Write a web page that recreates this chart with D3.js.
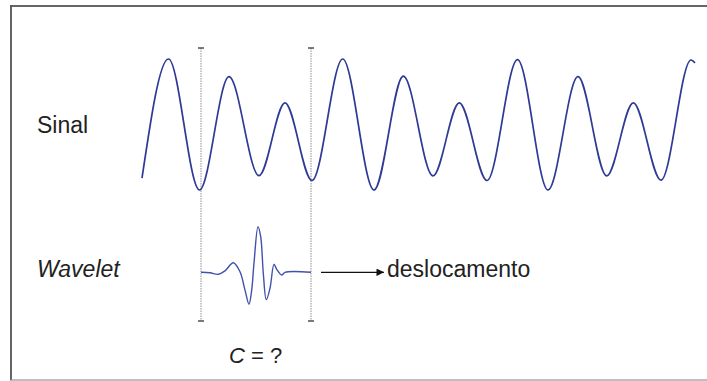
<!DOCTYPE html>
<html>
<head>
<meta charset="utf-8">
<script src="https://cdn.jsdelivr.net/npm/d3@7"></script>
<style>
  html, body { margin: 0; padding: 0; background: #fff; }
  svg { display: block; font-family: "Liberation Sans", Arial, sans-serif; }
</style>
</head>
<body>
<svg id="chart" width="707" height="381"></svg>
<script>
// Signal samples: time (arbitrary units) and amplitude, taken at turning points
const sigT = [0, 26.5, 57.5, 87, 117, 143, 170, 200.7, 232, 261.3, 291, 317.3, 345,
              375.5, 406, 436, 464.7, 491.3, 519, 549, 553];
const sigV = [-0.82, 1.0, -1.0, 0.73, -0.78, 0.33, -0.855, 1.0, -1.0, 0.74, -0.785, 0.33, -0.855,
              0.99, -1.0, 0.73, -0.785, 0.33, -0.85, 0.985, 0.94];

// Wavelet samples: time offset inside the analysis window and amplitude
const wavT = [0, 9, 17.3, 24, 32.3, 39, 44, 48, 50.7, 53, 57, 59.7, 62.3, 65.3, 69, 73, 75.7, 80.7, 84, 110];
const wavV = [0, -0.01, -0.044, 0.03, 0.21, 0.013, -0.39, -0.7, -0.39, 0.2, 1.0, 0.78, -0.02, -0.6,
              -0.35, 0.175, 0.065, -0.06, 0, 0];

// Analysis window (start / end, same time units as the signal)
const windowT = [59, 169];

const labels = { signal: "Sinal", wavelet: "Wavelet", shift: "deslocamento", coefVar: "C", coefRest: " = ?" };

const svg = d3.select("#chart");

// Frame
svg.append("line").attr("x1", 10).attr("x2", 707).attr("y1", 6).attr("y2", 6)
  .attr("stroke", "#333").attr("stroke-width", 1.5);
svg.append("line").attr("x1", 11).attr("x2", 11).attr("y1", 5.5).attr("y2", 380.5)
  .attr("stroke", "#555").attr("stroke-width", 1.8);
svg.append("line").attr("x1", 11).attr("x2", 707).attr("y1", 380).attr("y2", 380)
  .attr("stroke", "#aaa").attr("stroke-width", 1.5);

const x = d3.scaleLinear().domain([0, 553]).range([142, 695]);
const ySig = d3.scaleLinear().domain([-1, 1]).range([190, 59]);
const yWav = d3.scaleLinear().domain([-1, 1]).range([272.3 + 45.6, 272.3 - 45.6]);

// Window markers: dotted verticals with short caps
windowT.forEach(t => {
  const xp = x(t);
  svg.append("line").attr("x1", xp).attr("x2", xp).attr("y1", 48).attr("y2", 321)
    .attr("stroke", "#a8a8a8").attr("stroke-width", 1.3).attr("stroke-dasharray", "1.5,1");
  [48, 321].forEach(yy => {
    svg.append("line").attr("x1", xp - 3).attr("x2", xp + 3).attr("y1", yy).attr("y2", yy)
      .attr("stroke", "#444").attr("stroke-width", 1.4);
  });
});

// Signal
const sigLine = d3.line().x(d => x(d[0])).y(d => ySig(d[1])).curve(d3.curveMonotoneX);
svg.append("path").datum(d3.zip(sigT, sigV)).attr("d", sigLine)
  .attr("fill", "none").attr("stroke", "#2e3a96").attr("stroke-width", 1.7);

// Wavelet placed inside the window
const wavLine = d3.line().x(d => x(windowT[0] + d[0])).y(d => yWav(d[1])).curve(d3.curveCatmullRom.alpha(0.5));
svg.append("path").datum(d3.zip(wavT, wavV)).attr("d", wavLine)
  .attr("fill", "none").attr("stroke", "#4252ac").attr("stroke-width", 1.4);

// Shift arrow
const defs = svg.append("defs");
defs.append("marker").attr("id", "head").attr("viewBox", "0 0 10 10")
  .attr("refX", 10).attr("refY", 5).attr("markerWidth", 8).attr("markerHeight", 7.5)
  .attr("markerUnits", "userSpaceOnUse").attr("orient", "auto")
  .append("path").attr("d", "M0,0L10,5L0,10Z").attr("fill", "#111");
svg.append("line").attr("x1", 321).attr("x2", 384).attr("y1", 272.3).attr("y2", 272.3)
  .attr("stroke", "#111").attr("stroke-width", 1.3).attr("marker-end", "url(#head)");

// Labels
const fs = 23;
svg.append("text").attr("x", 37).attr("y", 133).attr("font-size", fs).attr("fill", "#222").text(labels.signal);
svg.append("text").attr("x", 37).attr("y", 277).attr("font-size", fs).attr("font-style", "italic")
  .attr("fill", "#222").text(labels.wavelet);
svg.append("text").attr("x", 387).attr("y", 277).attr("font-size", fs).attr("fill", "#222").text(labels.shift);
const c = svg.append("text").attr("x", 229).attr("y", 363).attr("font-size", 22).attr("fill", "#222");
c.append("tspan").attr("font-style", "italic").text(labels.coefVar);
c.append("tspan").text(labels.coefRest);
</script>
</body>
</html>
